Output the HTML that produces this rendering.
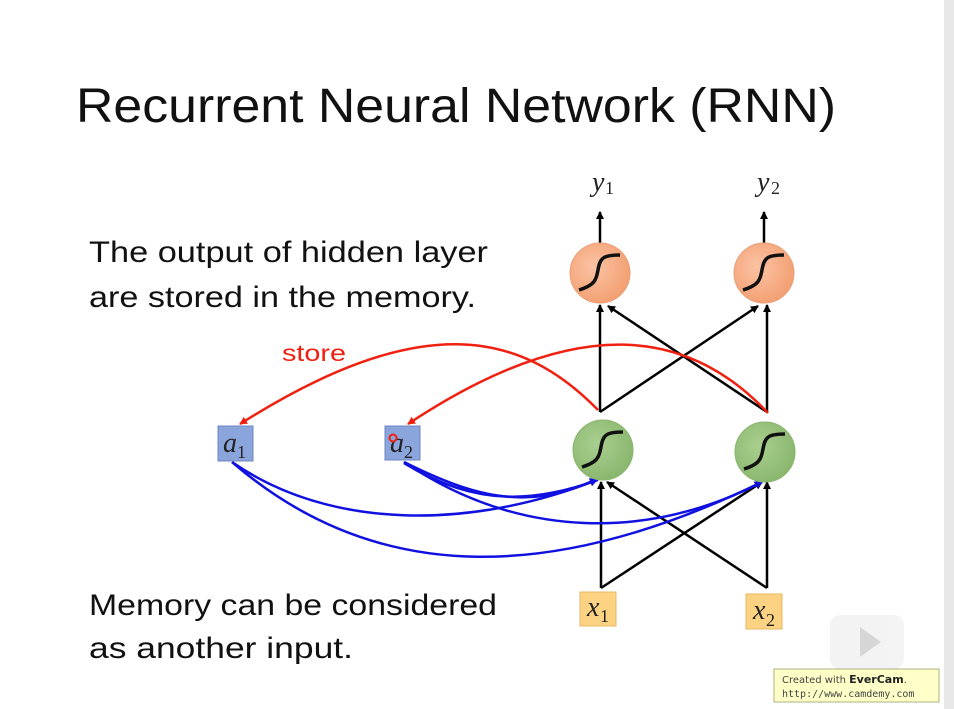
<!DOCTYPE html>
<html><head><meta charset="utf-8"><style>
html,body{margin:0;padding:0;background:#fff;width:954px;height:709px;overflow:hidden}
</style></head><body>
<svg width="954" height="709" xmlns="http://www.w3.org/2000/svg">
<defs>
<marker id="ak" markerWidth="8" markerHeight="8" refX="7" refY="4" orient="auto" markerUnits="userSpaceOnUse"><path d="M0,0 L8,4 L0,8 z" fill="#000"/></marker>
<marker id="ar" markerWidth="8" markerHeight="8" refX="7" refY="4" orient="auto" markerUnits="userSpaceOnUse"><path d="M0,0 L8,4 L0,8 z" fill="#f02010"/></marker>
<marker id="ab" markerWidth="8" markerHeight="8" refX="7" refY="4" orient="auto" markerUnits="userSpaceOnUse"><path d="M0,0 L8,4 L0,8 z" fill="#1010e0"/></marker>
<radialGradient id="go" cx="0.4" cy="0.4" r="0.7"><stop offset="0" stop-color="#fbc3a4"/><stop offset="1" stop-color="#f29b6c"/></radialGradient>
<radialGradient id="gg" cx="0.4" cy="0.4" r="0.7"><stop offset="0" stop-color="#a9cf8f"/><stop offset="1" stop-color="#86b46a"/></radialGradient>
</defs>
<rect x="944" y="0" width="10" height="709" fill="#e8e8e8"/>
<text x="76" y="122" font-family="Liberation Sans, sans-serif" font-size="48" fill="#111" textLength="760" lengthAdjust="spacingAndGlyphs">Recurrent Neural Network (RNN)</text>
<g font-family="Liberation Sans, sans-serif" font-size="30" fill="#111">
<text x="89" y="262" textLength="399" lengthAdjust="spacingAndGlyphs">The output of hidden layer</text>
<text x="89" y="307" textLength="387" lengthAdjust="spacingAndGlyphs">are stored in the memory.</text>
<text x="89" y="615" textLength="408" lengthAdjust="spacingAndGlyphs">Memory can be considered</text>
<text x="89" y="658" textLength="264" lengthAdjust="spacingAndGlyphs">as  another input.</text>
</g>
<text x="282" y="361" font-family="Liberation Sans, sans-serif" font-size="23" fill="#f02010" textLength="64" lengthAdjust="spacingAndGlyphs">store</text>

<g stroke="#000" stroke-width="2.5" fill="none">
<line x1="600" y1="243" x2="600" y2="212" marker-end="url(#ak)"/>
<line x1="764" y1="243" x2="764" y2="212" marker-end="url(#ak)"/>
<line x1="600" y1="412" x2="600" y2="305" marker-end="url(#ak)"/>
<line x1="600" y1="412" x2="758" y2="306" marker-end="url(#ak)"/>
<line x1="767" y1="412" x2="608" y2="306" marker-end="url(#ak)"/>
<line x1="767" y1="412" x2="767" y2="305" marker-end="url(#ak)"/>
<line x1="601" y1="588" x2="601" y2="482" marker-end="url(#ak)"/>
<line x1="601" y1="588" x2="762" y2="482" marker-end="url(#ak)"/>
<line x1="767" y1="588" x2="607" y2="482" marker-end="url(#ak)"/>
<line x1="767" y1="588" x2="767" y2="482" marker-end="url(#ak)"/>
</g>
<g stroke="#f02010" stroke-width="2.5" fill="none">
<path d="M598,410 C520,330 420,310 240,424" marker-end="url(#ar)"/>
<path d="M768,413 C690,330 580,310 408,424" marker-end="url(#ar)"/>
</g>
<g stroke="#1010e0" stroke-width="2.5" fill="none">
<path d="M232,462 C330,530 470,530 597,480" marker-end="url(#ab)"/>
<path d="M232,462 C380,590 560,580 762,482" marker-end="url(#ab)"/>
<path d="M404,462 C480,500 530,510 597,479" marker-end="url(#ab)"/>
<path d="M404,463 C480,510 540,500 598,480"/>
<path d="M404,462 C520,540 650,540 762,482" marker-end="url(#ab)"/>
</g>

<circle cx="600" cy="273" r="30" fill="url(#go)" stroke="#e8a07a"/>
<circle cx="764" cy="273" r="30" fill="url(#go)" stroke="#e8a07a"/>
<circle cx="603" cy="450" r="30" fill="url(#gg)" stroke="#8ab46e"/>
<circle cx="765" cy="452" r="30" fill="url(#gg)" stroke="#8ab46e"/>
<g stroke="#111" stroke-width="3.5" fill="none">
<path d="M579,290 C595,285 596,280 598,270 C600,258 603,255 620,255"/>
<path d="M743,290 C759,285 760,280 762,270 C764,258 767,255 784,255"/>
<path d="M582,467 C598,462 599,457 601,447 C603,435 606,432 623,432"/>
<path d="M744,469 C760,464 761,459 763,449 C765,437 768,434 785,434"/>
</g>

<rect x="218" y="426" width="35" height="35" fill="#8aa4dc" stroke="#6d86c0"/>
<rect x="385" y="426" width="35" height="34" fill="#8aa4dc" stroke="#6d86c0"/>
<rect x="580" y="592" width="36" height="34" fill="#fcd283" stroke="#e8b860"/>
<rect x="746" y="594" width="36" height="35" fill="#fcd283" stroke="#e8b860"/>
<g font-family="Liberation Serif, serif" font-style="italic" font-size="28" fill="#222">
<text x="223" y="452">a</text><text x="390" y="452">a</text>
<text x="587" y="616">x</text><text x="753" y="619">x</text>
<text x="592" y="191">y</text><text x="757" y="191">y</text>
</g>
<g font-family="Liberation Serif, serif" font-size="18" fill="#222">
<text x="237" y="458">1</text><text x="404" y="458">2</text>
<text x="600" y="622">1</text><text x="766" y="626">2</text>
<text x="605" y="194">1</text><text x="771" y="194">2</text>
</g>
<circle cx="393" cy="438" r="3.5" fill="none" stroke="#f02010" stroke-width="2"/>

<g opacity="0.85">
<rect x="830" y="615" width="74" height="54" rx="10" fill="#f2f2f2"/>
<path d="M860,627 L881,642 L860,657 z" fill="#cfcfcf"/>
</g>
<rect x="774" y="669" width="165" height="33" fill="#ffffc8" stroke="#b0b080"/>
<text x="782" y="683" font-family="DejaVu Sans, sans-serif" font-size="10" fill="#444">Created with <tspan font-weight="bold" fill="#222" font-size="11">EverCam</tspan>.</text>
<text x="782" y="697" font-family="DejaVu Sans Mono, monospace" font-size="10" fill="#444">http://www.camdemy.com</text>
</svg>
</body></html>
